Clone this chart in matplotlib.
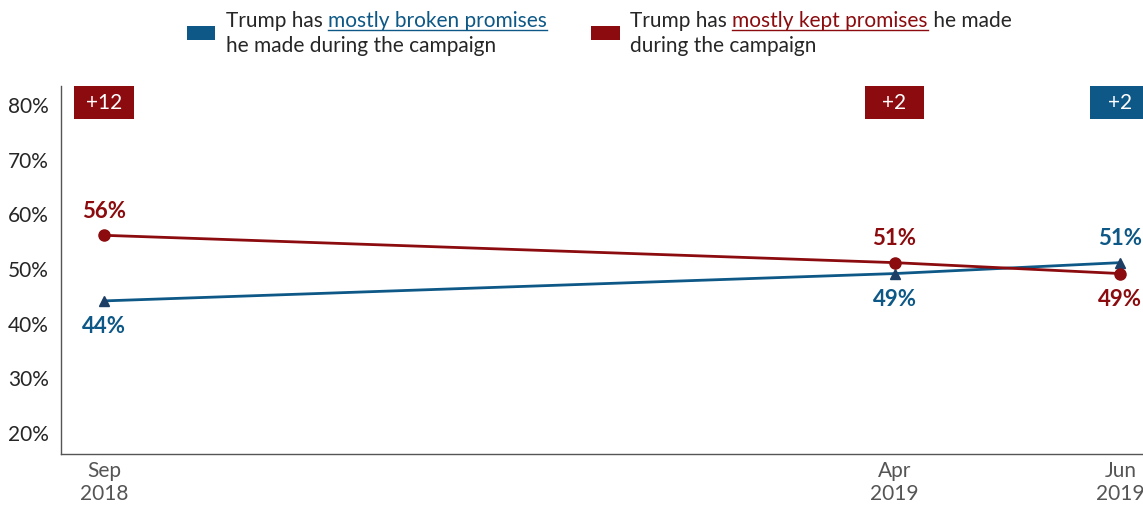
import matplotlib.pyplot as plt
from matplotlib.patches import Rectangle

plt.rcParams["font.family"] = ["Lato", "DejaVu Sans"]

BLUE = "#0d5886"
RED = "#8b0b0e"
TEXT = "#262626"
GRAY = "#555555"

# months counted from Sep 2018
months = [0, 7, 9]
tick_labels = ["Sep\n2018", "Apr\n2019", "Jun\n2019"]
broken = [44, 49, 51]
kept = [56, 51, 49]

fig = plt.figure(figsize=(11.43, 5.06), dpi=100)
ax = fig.add_axes([0.0534, 0.1008, 0.9466, 0.7272])

ax.plot(months, broken, color=BLUE, lw=2.0, marker="^", ms=7,
        mfc="#1d3f66", mec="#1d3f66", zorder=3)
ax.plot(months, kept, color=RED, lw=2.0, marker="o", ms=8,
        mfc=RED, mec=RED, zorder=4)

for x, b, k in zip(months, broken, kept):
    hi_b = b > k
    ax.annotate(f"{b}%", (x, b), xytext=(0, 18 if hi_b else -18),
                textcoords="offset points", ha="center", va="center",
                color=BLUE, fontsize=16, fontweight="bold")
    ax.annotate(f"{k}%", (x, k), xytext=(0, -18 if hi_b else 18),
                textcoords="offset points", ha="center", va="center",
                color=RED, fontsize=16, fontweight="bold")
    # gap box along the top
    gap = abs(k - b)
    col = BLUE if hi_b else RED
    w = 0.53
    ax.add_patch(Rectangle((x - w / 2, 77.25), w, 6.05, facecolor=col,
                           edgecolor="none", clip_on=False, zorder=5))
    ax.text(x, 80.3, f"+{gap}", ha="center", va="center", color="white",
            fontsize=15, zorder=6)

ax.set_xlim(-0.38, 9.2)
ax.set_ylim(16, 83.3)
ax.set_yticks([20, 30, 40, 50, 60, 70, 80])
ax.set_yticklabels([f"{v}%" for v in [20, 30, 40, 50, 60, 70, 80]])
ax.set_xticks(months)
ax.set_xticklabels(tick_labels)
ax.tick_params(axis="y", length=0, labelsize=15, labelcolor=TEXT, pad=9)
ax.tick_params(axis="x", length=0, labelsize=15, labelcolor=GRAY, pad=4)
for s in ["top", "right"]:
    ax.spines[s].set_visible(False)
for s in ["left", "bottom"]:
    ax.spines[s].set_color(GRAY)
    ax.spines[s].set_linewidth(1.0)

# legend built from text pieces so part of each line can be underlined
renderer = fig.canvas.get_renderer()
H = 506


def px(x, y):
    return x / 1143, 1 - y / H


def line_pieces(x, y, pieces, size=15):
    for txt, col, under in pieces:
        t = fig.text(*px(x, y), txt, color=col, fontsize=size,
                     ha="left", va="baseline")
        bb = t.get_window_extent(renderer)
        if under:
            uy = y + 3.5
            fig.add_artist(plt.Line2D([x / 1143, (x + bb.width) / 1143],
                                      [1 - uy / H, 1 - uy / H],
                                      transform=fig.transFigure,
                                      color=col, lw=1.0))
        x += bb.width


fig.add_artist(Rectangle(px(187, 41), 28 / 1143, 14 / H, facecolor=BLUE,
                         edgecolor="none", transform=fig.transFigure))
line_pieces(226, 27, [("Trump has ", TEXT, False),
                      ("mostly broken promises", BLUE, True)])
line_pieces(226, 52, [("he made during the campaign", TEXT, False)])

fig.add_artist(Rectangle(px(591, 41), 29 / 1143, 14 / H, facecolor=RED,
                         edgecolor="none", transform=fig.transFigure))
line_pieces(630, 27, [("Trump has ", TEXT, False),
                      ("mostly kept promises", RED, True),
                      (" he made", TEXT, False)])
line_pieces(630, 52, [("during the campaign", TEXT, False)])

fig.savefig("out.png", dpi=100)
